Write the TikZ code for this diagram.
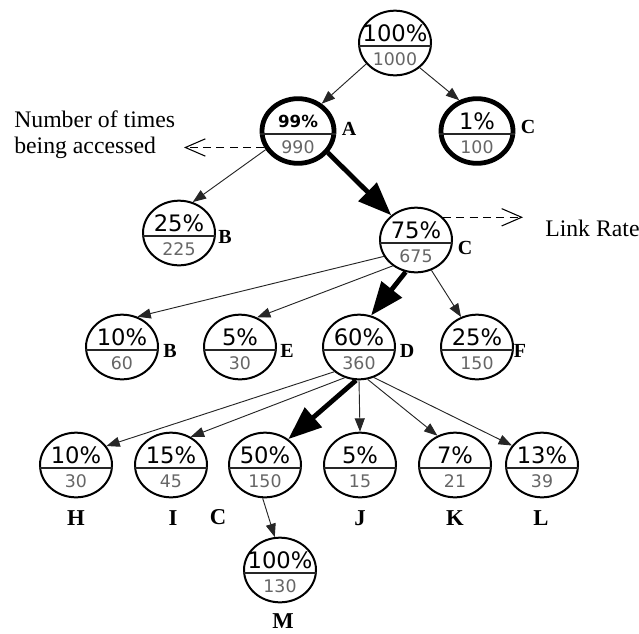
\documentclass[tikz,border=0pt]{standalone}
\usepackage{fontspec}
\setmainfont{Liberation Serif}
\newfontfamily\numfont{DejaVu Sans}
\usetikzlibrary{shapes.geometric,arrows.meta,calc}

% one access node: ring, divider, share on top, count below
% #1 name, #2 position, #3 share, #4 count, #5 ring style, #6 share style
\newcommand\ratenode[6]{%
  \node[ratering,#5] (#1) at (#2) {};
  \draw[divider] ([yshift=-2.25pt]#1.west) -- ([yshift=-2.25pt]#1.east);
  \node[pcttext,#6] (#1-pct) at ([yshift=7.5pt]#1.center) {#3};
  \node[cnttext] (#1-cnt) at ([yshift=-12pt]#1.center) {#4};
}

\tikzset{
  ratering/.style={ellipse, draw=black, line width=1.5pt, fill=white,
    minimum width=54pt, minimum height=48.5pt, inner sep=0pt},
  heavyring/.style={line width=3.6pt},
  divider/.style={line width=1.6pt, draw=black!85},
  pcttext/.style={font=\numfont\fontsize{17}{17}\selectfont, inner sep=0pt, text=black},
  smallpct/.style={font=\numfont\bfseries\fontsize{12.5}{12.5}\selectfont},
  cnttext/.style={font=\numfont\fontsize{13}{13}\selectfont, inner sep=0pt, text=black!60},
  sidelabel/.style={font=\bfseries\fontsize{15}{15}\selectfont, inner sep=0pt},
  baselabel/.style={font=\bfseries\fontsize{17}{17}\selectfont, inner sep=0pt},
  note/.style={font=\fontsize{17.8}{19.5}\selectfont, inner sep=0pt, align=left},
  link/.style={line width=0.7pt, draw=black!85, -{Triangle[length=10pt,width=7.5pt]}},
  heavylink/.style={line width=3.6pt, -{Triangle[length=25pt,width=19pt]}},
  pointer/.style={line width=0.8pt, dash pattern=on 6pt off 4pt,
    -{Straight Barb[length=15pt,width=13pt]}},
}

\begin{document}
\begin{tikzpicture}[x=0.75pt, y=-0.75pt]
\useasboundingbox (0,0) rectangle (639,633);

% level 0 and 1
\ratenode{R}{395,43}{100\%}{1000}{}{}
\ratenode{A}{298,131}{99\%}{990}{heavyring}{smallpct}
\ratenode{C1}{477,131}{1\%}{100}{heavyring}{}
% level 2
\ratenode{B1}{179,233}{25\%}{225}{}{}
\ratenode{C2}{416,240}{75\%}{675}{}{}
% level 3
\ratenode{B2}{122,347}{10\%}{60}{}{}
\ratenode{E}{240,347}{5\%}{30}{}{}
\ratenode{D}{359,347}{60\%}{360}{}{}
\ratenode{F}{477,347}{25\%}{150}{}{}
% level 4
\ratenode{H}{76,465}{10\%}{30}{}{}
\ratenode{I}{171,465}{15\%}{45}{}{}
\ratenode{C3}{265,465}{50\%}{150}{}{}
\ratenode{J}{360,465}{5\%}{15}{}{}
\ratenode{K}{455,465}{7\%}{21}{}{}
\ratenode{L}{542,465}{13\%}{39}{}{}
% level 5
\ratenode{M}{280,570}{100\%}{130}{}{}

% page names
\node[sidelabel] (lA)  at (349,129) {A};
\node[sidelabel] (lC1) at (528,127) {C};
\node[sidelabel] (lB1) at (225,237) {B};
\node[sidelabel] (lC2) at (465,248) {C};
\node[sidelabel] (lB2) at (170,351) {B};
\node[sidelabel] (lE)  at (287,351) {E};
\node[sidelabel] (lD)  at (407,351) {D};
\node[sidelabel] (lF)  at (520,351) {F};
\node[baselabel] (lH)  at (76,518)  {H};
\node[baselabel] (lI)  at (173,518) {I};
\node[baselabel] (lC3) at (218,517) {C};
\node[baselabel] (lJ)  at (360,518) {J};
\node[baselabel] (lK)  at (455,518) {K};
\node[baselabel] (lL)  at (541,518) {L};
\node[baselabel] (lM)  at (283,621) {M};

% transitions
\draw[link] (R.216) -- (A.49);
\draw[link] (R.315) -- (C1.120);
\draw[link] (A.210) -- (B1.66);
\draw[heavylink] (A.-36) -- (C2.135);
\draw[link] (C2.207) -- (B2.63);
\draw[link] (C2.228) -- (E.60);
\draw[heavylink] (C2.252) -- (D.69);
\draw[link] (C2.297) -- (F.118);
\draw[link] (D.225) -- (H.32);
\draw[link] (D.245) -- (I.55);
\draw[heavylink] (D.265) -- (C3.48);
\draw[link] (D.270) -- (J.90);
\draw[link] (D.285) -- (K.121);
\draw[link] (D.296) -- (L.147);
\draw[link] (C3.266) -- (M.99);

% annotations
\node[note, anchor=west] (acctxt) at (14,135) {Number of times\\being accessed};
\coordinate (accEnd) at (184,147);
\draw[pointer] (A.206) -- (A.206 -| accEnd);

\node[note, anchor=west] (ratetxt) at (545,228) {Link Rate};
\coordinate (rateEnd) at (523,217);
\draw[pointer] (C2.40) -- (C2.40 -| rateEnd);
\end{tikzpicture}
\end{document}
